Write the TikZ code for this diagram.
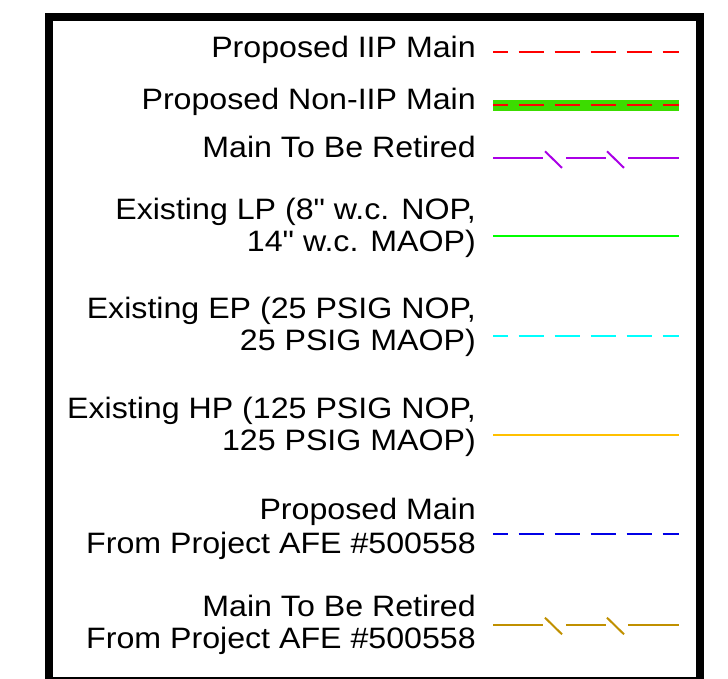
\documentclass[tikz,border=0pt]{standalone}
\usepackage{fontspec}
\setmainfont{Liberation Sans}[FakeStretch=1.09, Ligatures=TeXOff]
\definecolor{iipred}{RGB}{255,0,0}
\definecolor{nongreen}{RGB}{60,220,0}
\definecolor{retpurple}{RGB}{170,0,230}
\definecolor{lpgreen}{RGB}{0,255,0}
\definecolor{epcyan}{RGB}{0,255,255}
\definecolor{hporange}{RGB}{255,192,0}
\definecolor{pmblue}{RGB}{0,0,230}
\definecolor{retgold}{RGB}{192,144,0}
\tikzset{
  legendtext/.style={anchor=base east, inner sep=0pt, font=\fontsize{29.5}{32}\selectfont},
  swatch/.style={line width=2pt},
  dashpat/.style={dash pattern=on 25.5pt off 10.5pt, dash phase=10.5pt},
  frameline/.style={line width=8pt}
}
\newcommand{\brokenswatch}[2]{%
  \draw[swatch,#2] (493,#1) -- (543,#1) (566,#1) -- (606,#1) (628,#1) -- (679,#1);
  \draw[swatch,#2] (545,{#1-7}) -- (562,{#1+9.6}) (607,{#1-7}) -- (624,{#1+9.6});
}
\begin{document}
\begin{tikzpicture}[x=1pt,y=-1pt]
\useasboundingbox (0,0) rectangle (728,679);
\clip (0,0) rectangle (728,679);
\draw[frameline] (49,16.8) rectangle (700,681);
% row 1
\node[legendtext] (t1) at (476,57.3) {Proposed IIP Main};
\draw[swatch,iipred,dashpat] (493,52.3) -- (679,52.3);
% row 2
\node[legendtext] (t2) at (476,110) {Proposed Non-IIP Main};
\fill[nongreen] (493,100) rectangle (679,110.7);
\draw[swatch,iipred,dashpat] (493,105.3) -- (679,105.3);
% row 3
\node[legendtext] (t3) at (476,157.7) {Main To Be Retired};
\brokenswatch{158.3}{retpurple}
% row 4
\node[legendtext] (t4a) at (476,220) {Existing LP (8" w.c. NOP,};
\node[legendtext] (t4b) at (476,251.7) {14" w.c. MAOP)};
\draw[swatch,lpgreen] (493,236) -- (679,236);
% row 5
\node[legendtext] (t5a) at (476,318.3) {Existing EP (25 PSIG NOP,};
\node[legendtext] (t5b) at (476,350) {25 PSIG MAOP)};
\draw[swatch,epcyan,dashpat] (493,335.7) -- (679,335.7);
% row 6
\node[legendtext] (t6a) at (476,418.3) {Existing HP (125 PSIG NOP,};
\node[legendtext] (t6b) at (476,450) {125 PSIG MAOP)};
\draw[swatch,hporange] (493,434.7) -- (679,434.7);
% row 7
\node[legendtext] (t7a) at (476,519) {Proposed Main};
\node[legendtext] (t7b) at (476,553) {From Project AFE \#500558};
\draw[swatch,pmblue,dashpat] (493,534) -- (679,534);
% row 8
\node[legendtext] (t8a) at (476,616.7) {Main To Be Retired};
\node[legendtext] (t8b) at (476,648.3) {From Project AFE \#500558};
\brokenswatch{624.7}{retgold}
\end{tikzpicture}
\end{document}
